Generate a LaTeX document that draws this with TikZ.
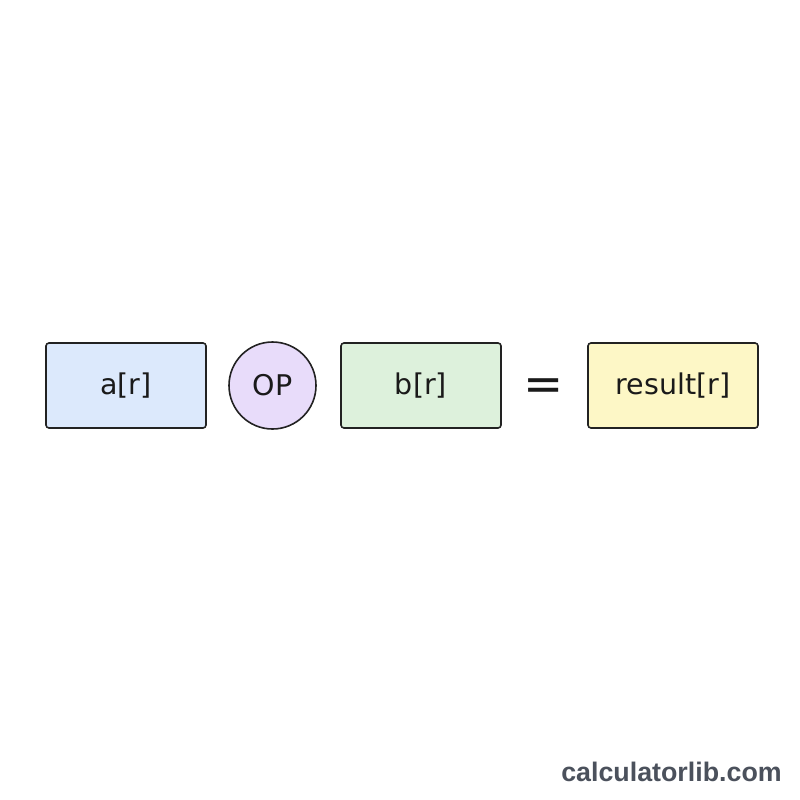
\documentclass[tikz,border=0pt]{standalone}
\usepackage{fontspec}
\setmainfont{DejaVu Sans}
\newfontfamily\wmfont{Liberation Sans}
\definecolor{boxA}{HTML}{DCE9FC}
\definecolor{circOP}{HTML}{E8DCFA}
\definecolor{boxB}{HTML}{DDF1DC}
\definecolor{boxR}{HTML}{FDF7C6}
\definecolor{edge}{HTML}{222222}
\definecolor{txt}{HTML}{1A1A1A}
\definecolor{wm}{HTML}{4B515C}
\begin{document}
\begin{tikzpicture}[x=1pt,y=-1pt,
  cell/.style={draw=edge, line width=1.6pt, rounded corners=3pt, minimum height=85pt, inner sep=0pt, text=txt, font=\fontsize{28.5}{30}\selectfont},
  opnode/.style={circle, draw=edge, line width=1.6pt, fill=circOP, minimum size=87pt, inner sep=0pt, text=txt, font=\fontsize{28.5}{30}\selectfont}]
\useasboundingbox (0,0) rectangle (800,800);
\fill[white] (0,0) rectangle (800,800);
\node[cell, fill=boxA, minimum width=160pt] (a) at (126,385.5) {a[r]};
\node[opnode] (op) at (272.5,385.5) {OP};
\node[cell, fill=boxB, minimum width=160pt] (b) at (421,385.5) {b[r]};
\node[text=txt, inner sep=0pt, font=\fontsize{48}{48}\selectfont] (eq) at (544,390) {=};
\node[cell, fill=boxR, minimum width=170pt] (res) at (673,385.5) {result[r]};
\node[text=wm, inner sep=0pt, font=\wmfont\bfseries\fontsize{26.8}{26.8}\selectfont] (wmk) at (671.5,772) {calculatorlib.com};
\end{tikzpicture}
\end{document}
